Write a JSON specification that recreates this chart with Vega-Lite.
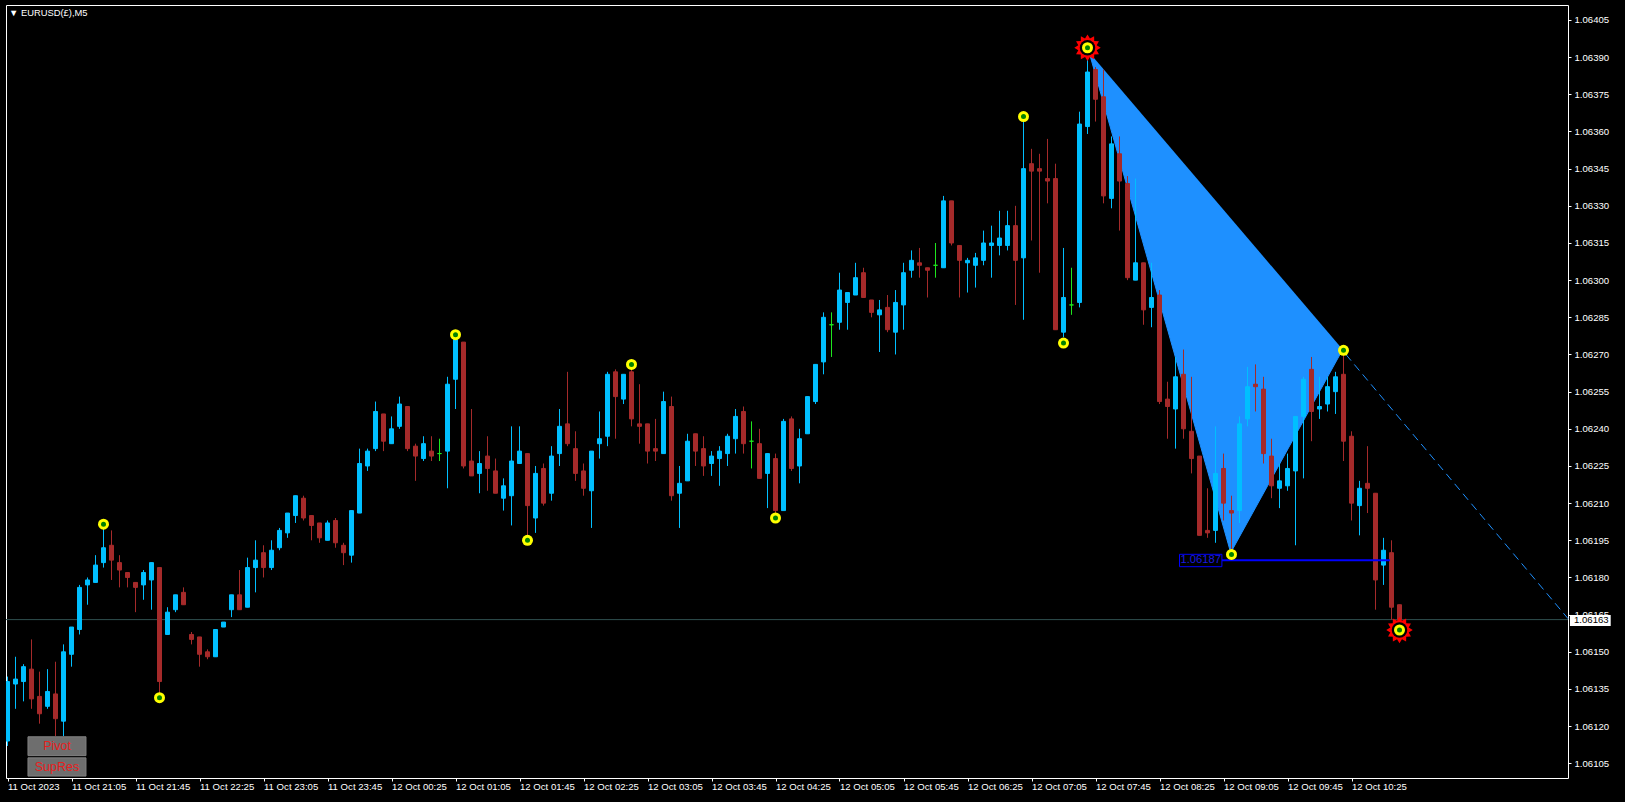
{
"$schema": "https://vega.github.io/schema/vega-lite/v6.json",
"width": 1562, "height": 773,
"autosize": {"type": "none"},
"padding": {"left": 6, "top": 5, "right": 57, "bottom": 24},
"background": "#000000",
"title": {"text": "▼ EURUSD(£),M5", "anchor": "start", "frame": "group", "orient": "top", "offset": -20, "dx": 3, "font": "Liberation Sans", "fontSize": 9.4, "fontWeight": "normal", "color": "#ffffff", "baseline": "alphabetic"},
"config": {"view": {"stroke": "#ffffff", "strokeWidth": 1}, "font": "Liberation Sans"},
"resolve": {"scale": {"x": "shared", "y": "shared"}, "axis": {"x": "shared", "y": "shared"}},
"datasets": {
"bars": [
{"i":0,"o":1.06114,"h":1.0614,"l":1.06112,"c":1.06138},
{"i":1,"o":1.06137,"h":1.06148,"l":1.06127,"c":1.06139},
{"i":2,"o":1.06138,"h":1.06145,"l":1.0613,"c":1.06144},
{"i":3,"o":1.06143,"h":1.06155,"l":1.06127,"c":1.06131},
{"i":4,"o":1.06132,"h":1.06142,"l":1.06121,"c":1.06125},
{"i":5,"o":1.06128,"h":1.06143,"l":1.06127,"c":1.06134},
{"i":6,"o":1.06133,"h":1.06146,"l":1.06116,"c":1.06123},
{"i":7,"o":1.06122,"h":1.06153,"l":1.06116,"c":1.0615},
{"i":8,"o":1.06149,"h":1.0616,"l":1.06144,"c":1.0616},
{"i":9,"o":1.06159,"h":1.06177,"l":1.06157,"c":1.06176},
{"i":10,"o":1.06177,"h":1.0618,"l":1.06169,"c":1.06179},
{"i":11,"o":1.06178,"h":1.06189,"l":1.06178,"c":1.06185},
{"i":12,"o":1.06186,"h":1.062,"l":1.06184,"c":1.06192},
{"i":13,"o":1.06193,"h":1.06199,"l":1.06179,"c":1.06187},
{"i":14,"o":1.06186,"h":1.06189,"l":1.06176,"c":1.06183},
{"i":15,"o":1.06182,"h":1.06182,"l":1.06176,"c":1.0618},
{"i":16,"o":1.06178,"h":1.06178,"l":1.06166,"c":1.06176},
{"i":17,"o":1.06177,"h":1.06183,"l":1.06171,"c":1.06182},
{"i":18,"o":1.06179,"h":1.06186,"l":1.06167,"c":1.06186},
{"i":19,"o":1.06184,"h":1.06184,"l":1.06133,"c":1.06138},
{"i":20,"o":1.06157,"h":1.06168,"l":1.06157,"c":1.06166},
{"i":21,"o":1.06167,"h":1.06173,"l":1.06166,"c":1.06173},
{"i":22,"o":1.06174,"h":1.06176,"l":1.06169,"c":1.06169},
{"i":23,"o":1.06157,"h":1.06158,"l":1.06153,"c":1.06155},
{"i":24,"o":1.06156,"h":1.06156,"l":1.06144,"c":1.06149},
{"i":25,"o":1.0615,"h":1.06151,"l":1.06147,"c":1.06148},
{"i":26,"o":1.06148,"h":1.06159,"l":1.06148,"c":1.06159},
{"i":27,"o":1.0616,"h":1.06162,"l":1.0616,"c":1.06162},
{"i":28,"o":1.06167,"h":1.06173,"l":1.06164,"c":1.06173},
{"i":29,"o":1.06173,"h":1.06183,"l":1.06167,"c":1.06167},
{"i":30,"o":1.06168,"h":1.06188,"l":1.06168,"c":1.06184},
{"i":31,"o":1.06184,"h":1.06195,"l":1.06174,"c":1.06187},
{"i":32,"o":1.0619,"h":1.06193,"l":1.0618,"c":1.06184},
{"i":33,"o":1.06184,"h":1.06195,"l":1.06183,"c":1.06191},
{"i":34,"o":1.06192,"h":1.062,"l":1.06191,"c":1.06199},
{"i":35,"o":1.06198,"h":1.06206,"l":1.06196,"c":1.06206},
{"i":36,"o":1.06205,"h":1.06213,"l":1.06202,"c":1.06213},
{"i":37,"o":1.06212,"h":1.06213,"l":1.06203,"c":1.06204},
{"i":38,"o":1.06205,"h":1.06205,"l":1.06195,"c":1.06201},
{"i":39,"o":1.06202,"h":1.06202,"l":1.06194,"c":1.06196},
{"i":40,"o":1.06195,"h":1.06203,"l":1.06195,"c":1.06202},
{"i":41,"o":1.06203,"h":1.06204,"l":1.06192,"c":1.06194},
{"i":42,"o":1.06193,"h":1.06194,"l":1.06185,"c":1.0619},
{"i":43,"o":1.06189,"h":1.06207,"l":1.06186,"c":1.06207},
{"i":44,"o":1.06206,"h":1.06232,"l":1.06206,"c":1.06226},
{"i":45,"o":1.06225,"h":1.06232,"l":1.06223,"c":1.06231},
{"i":46,"o":1.06232,"h":1.06251,"l":1.06231,"c":1.06247},
{"i":47,"o":1.06246,"h":1.06246,"l":1.06231,"c":1.06235},
{"i":48,"o":1.06234,"h":1.06245,"l":1.06234,"c":1.0624},
{"i":49,"o":1.06241,"h":1.06253,"l":1.0624,"c":1.0625},
{"i":50,"o":1.06249,"h":1.06249,"l":1.06231,"c":1.06232},
{"i":51,"o":1.06233,"h":1.06234,"l":1.06219,"c":1.06229},
{"i":52,"o":1.06228,"h":1.06237,"l":1.06227,"c":1.06234},
{"i":53,"o":1.06231,"h":1.06237,"l":1.06227,"c":1.06229},
{"i":54,"o":1.0623,"h":1.06236,"l":1.06227,"c":1.0623},
{"i":55,"o":1.06231,"h":1.06261,"l":1.06216,"c":1.06258},
{"i":56,"o":1.0626,"h":1.06276,"l":1.06248,"c":1.06276},
{"i":57,"o":1.06275,"h":1.06275,"l":1.06224,"c":1.06225},
{"i":58,"o":1.06227,"h":1.06248,"l":1.06221,"c":1.06221},
{"i":59,"o":1.06222,"h":1.06231,"l":1.06214,"c":1.06226},
{"i":60,"o":1.06229,"h":1.06237,"l":1.06215,"c":1.06224},
{"i":61,"o":1.06223,"h":1.06228,"l":1.06214,"c":1.06214},
{"i":62,"o":1.06212,"h":1.0622,"l":1.06207,"c":1.06217},
{"i":63,"o":1.06213,"h":1.06241,"l":1.06201,"c":1.06227},
{"i":64,"o":1.06226,"h":1.06241,"l":1.06226,"c":1.06231},
{"i":65,"o":1.0623,"h":1.0623,"l":1.06197,"c":1.06209},
{"i":66,"o":1.06204,"h":1.06225,"l":1.06198,"c":1.06222},
{"i":67,"o":1.06224,"h":1.06226,"l":1.06209,"c":1.0621},
{"i":68,"o":1.06214,"h":1.06233,"l":1.06211,"c":1.06229},
{"i":69,"o":1.0623,"h":1.06248,"l":1.06225,"c":1.06241},
{"i":70,"o":1.06242,"h":1.06263,"l":1.06233,"c":1.06234},
{"i":71,"o":1.06232,"h":1.06239,"l":1.06219,"c":1.06222},
{"i":72,"o":1.06223,"h":1.06226,"l":1.06213,"c":1.06216},
{"i":73,"o":1.06215,"h":1.06231,"l":1.062,"c":1.06231},
{"i":74,"o":1.06234,"h":1.06247,"l":1.06228,"c":1.06236},
{"i":75,"o":1.06237,"h":1.06263,"l":1.06233,"c":1.06262},
{"i":76,"o":1.06263,"h":1.06264,"l":1.06236,"c":1.06253},
{"i":77,"o":1.06252,"h":1.06262,"l":1.0625,"c":1.06262},
{"i":78,"o":1.06263,"h":1.06265,"l":1.06241,"c":1.06244},
{"i":79,"o":1.06242,"h":1.06258,"l":1.06234,"c":1.06241},
{"i":80,"o":1.06242,"h":1.06242,"l":1.06226,"c":1.06231},
{"i":81,"o":1.06232,"h":1.06244,"l":1.06227,"c":1.06231},
{"i":82,"o":1.0623,"h":1.06255,"l":1.0623,"c":1.06251},
{"i":83,"o":1.06249,"h":1.06253,"l":1.06211,"c":1.06213},
{"i":84,"o":1.06214,"h":1.06225,"l":1.062,"c":1.06218},
{"i":85,"o":1.06219,"h":1.06238,"l":1.06219,"c":1.06235},
{"i":86,"o":1.06238,"h":1.06238,"l":1.06225,"c":1.06231},
{"i":87,"o":1.06232,"h":1.06237,"l":1.06221,"c":1.06225},
{"i":88,"o":1.06226,"h":1.06231,"l":1.06221,"c":1.06229},
{"i":89,"o":1.06228,"h":1.06233,"l":1.06217,"c":1.06231},
{"i":90,"o":1.0623,"h":1.06238,"l":1.06225,"c":1.06237},
{"i":91,"o":1.06236,"h":1.06248,"l":1.0623,"c":1.06245},
{"i":92,"o":1.06247,"h":1.06249,"l":1.0623,"c":1.06234},
{"i":93,"o":1.06235,"h":1.06243,"l":1.06224,"c":1.06235},
{"i":94,"o":1.06234,"h":1.0624,"l":1.0622,"c":1.0622},
{"i":95,"o":1.06222,"h":1.0623,"l":1.06208,"c":1.0623},
{"i":96,"o":1.06228,"h":1.0623,"l":1.06206,"c":1.06207},
{"i":97,"o":1.06207,"h":1.06244,"l":1.06207,"c":1.06243},
{"i":98,"o":1.06244,"h":1.06245,"l":1.06223,"c":1.06224},
{"i":99,"o":1.06225,"h":1.0624,"l":1.06218,"c":1.06236},
{"i":100,"o":1.06238,"h":1.06253,"l":1.06238,"c":1.06253},
{"i":101,"o":1.06251,"h":1.06266,"l":1.0625,"c":1.06266},
{"i":102,"o":1.06267,"h":1.06287,"l":1.06262,"c":1.06285},
{"i":103,"o":1.06282,"h":1.06287,"l":1.06269,"c":1.06282},
{"i":104,"o":1.06283,"h":1.06303,"l":1.0628,"c":1.06296},
{"i":105,"o":1.06291,"h":1.06295,"l":1.0628,"c":1.06295},
{"i":106,"o":1.06294,"h":1.06307,"l":1.06294,"c":1.06301},
{"i":107,"o":1.06303,"h":1.06305,"l":1.06293,"c":1.06293},
{"i":108,"o":1.06292,"h":1.06292,"l":1.06285,"c":1.06287},
{"i":109,"o":1.06286,"h":1.06292,"l":1.06271,"c":1.06288},
{"i":110,"o":1.06289,"h":1.06294,"l":1.06279,"c":1.0628},
{"i":111,"o":1.06279,"h":1.06296,"l":1.0627,"c":1.06291},
{"i":112,"o":1.0629,"h":1.06307,"l":1.0628,"c":1.06303},
{"i":113,"o":1.06304,"h":1.06312,"l":1.06301,"c":1.06308},
{"i":114,"o":1.06307,"h":1.06313,"l":1.06301,"c":1.06306},
{"i":115,"o":1.06305,"h":1.06305,"l":1.06293,"c":1.06304},
{"i":116,"o":1.06306,"h":1.06315,"l":1.06301,"c":1.06306},
{"i":117,"o":1.06305,"h":1.06334,"l":1.06305,"c":1.06332},
{"i":118,"o":1.06332,"h":1.06332,"l":1.06314,"c":1.06315},
{"i":119,"o":1.06314,"h":1.06314,"l":1.06293,"c":1.06308},
{"i":120,"o":1.06307,"h":1.06309,"l":1.06295,"c":1.06308},
{"i":121,"o":1.06306,"h":1.06311,"l":1.06297,"c":1.06309},
{"i":122,"o":1.06308,"h":1.0632,"l":1.06306,"c":1.06315},
{"i":123,"o":1.06314,"h":1.06322,"l":1.06301,"c":1.06315},
{"i":124,"o":1.06314,"h":1.06328,"l":1.0631,"c":1.06317},
{"i":125,"o":1.06314,"h":1.06328,"l":1.06312,"c":1.06322},
{"i":126,"o":1.06322,"h":1.0633,"l":1.0629,"c":1.06308},
{"i":127,"o":1.06309,"h":1.06364,"l":1.06284,"c":1.06345},
{"i":128,"o":1.06347,"h":1.06353,"l":1.06316,"c":1.06344},
{"i":129,"o":1.06345,"h":1.06351,"l":1.06303,"c":1.06344},
{"i":130,"o":1.06341,"h":1.06357,"l":1.06331,"c":1.0634},
{"i":131,"o":1.06341,"h":1.06347,"l":1.0628,"c":1.0628},
{"i":132,"o":1.06279,"h":1.06313,"l":1.06277,"c":1.06293},
{"i":133,"o":1.0629,"h":1.06305,"l":1.06286,"c":1.0629},
{"i":134,"o":1.06291,"h":1.06368,"l":1.06289,"c":1.06363},
{"i":135,"o":1.06362,"h":1.06392,"l":1.06359,"c":1.06384},
{"i":136,"o":1.06385,"h":1.06386,"l":1.06364,"c":1.06373},
{"i":137,"o":1.06374,"h":1.06385,"l":1.06331,"c":1.06334},
{"i":138,"o":1.06333,"h":1.06358,"l":1.06329,"c":1.06355},
{"i":139,"o":1.06351,"h":1.06358,"l":1.0632,"c":1.0634},
{"i":140,"o":1.06339,"h":1.06342,"l":1.063,"c":1.06301},
{"i":141,"o":1.063,"h":1.06341,"l":1.063,"c":1.06307},
{"i":142,"o":1.06307,"h":1.06307,"l":1.06282,"c":1.06288},
{"i":143,"o":1.06289,"h":1.06307,"l":1.06281,"c":1.06293},
{"i":144,"o":1.06294,"h":1.06296,"l":1.0625,"c":1.06251},
{"i":145,"o":1.06252,"h":1.06259,"l":1.06236,"c":1.06249},
{"i":146,"o":1.06248,"h":1.06269,"l":1.06232,"c":1.06261},
{"i":147,"o":1.06262,"h":1.06272,"l":1.06236,"c":1.0624},
{"i":148,"o":1.06239,"h":1.06261,"l":1.06222,"c":1.06228},
{"i":149,"o":1.06229,"h":1.06229,"l":1.06197,"c":1.06197},
{"i":150,"o":1.06199,"h":1.06216,"l":1.06196,"c":1.06198},
{"i":151,"o":1.06199,"h":1.06241,"l":1.06194,"c":1.06222},
{"i":152,"o":1.06224,"h":1.0623,"l":1.06203,"c":1.0621},
{"i":153,"o":1.06207,"h":1.06213,"l":1.0619,"c":1.06206},
{"i":154,"o":1.06207,"h":1.06245,"l":1.06202,"c":1.06242},
{"i":155,"o":1.06244,"h":1.06265,"l":1.06241,"c":1.06257},
{"i":156,"o":1.06258,"h":1.06266,"l":1.06247,"c":1.06257},
{"i":157,"o":1.06256,"h":1.06261,"l":1.06226,"c":1.0623},
{"i":158,"o":1.06229,"h":1.06236,"l":1.06212,"c":1.06217},
{"i":159,"o":1.06216,"h":1.06226,"l":1.06208,"c":1.06219},
{"i":160,"o":1.06217,"h":1.0623,"l":1.06215,"c":1.06224},
{"i":161,"o":1.06223,"h":1.06245,"l":1.06193,"c":1.06245},
{"i":162,"o":1.06245,"h":1.06261,"l":1.0622,"c":1.0626},
{"i":163,"o":1.06264,"h":1.06269,"l":1.06235,"c":1.06247},
{"i":164,"o":1.06248,"h":1.06261,"l":1.06244,"c":1.06249},
{"i":165,"o":1.0625,"h":1.06261,"l":1.06247,"c":1.06257},
{"i":166,"o":1.06255,"h":1.06263,"l":1.06246,"c":1.06261},
{"i":167,"o":1.06262,"h":1.0627,"l":1.06227,"c":1.06235},
{"i":168,"o":1.06237,"h":1.06239,"l":1.06203,"c":1.0621},
{"i":169,"o":1.06209,"h":1.06219,"l":1.06197,"c":1.06216},
{"i":170,"o":1.06218,"h":1.06233,"l":1.06206,"c":1.06216},
{"i":171,"o":1.06214,"h":1.06214,"l":1.06167,"c":1.06179},
{"i":172,"o":1.06185,"h":1.06196,"l":1.06177,"c":1.06191},
{"i":173,"o":1.0619,"h":1.06195,"l":1.06163,"c":1.06168},
{"i":174,"o":1.06169,"h":1.06169,"l":1.0616,"c":1.06163}
],
"tri": [{"k":0,"i":135.2,"p":1.06392},{"k":1,"i":152.9,"p":1.0619},{"k":2,"i":166.9,"p":1.06272}],
"bid": [{"i":-0.1875,"i2":195.0625,"p":1.06163}],
"proj": [{"k":0,"i":167.3,"p":1.0627},{"k":1,"i":195.0625,"p":1.061634}],
"level": [{"i":151.8,"i2":172.8,"p":1.06187}],
"levelbox": [{"i":146.5,"i2":151.8,"p":1.0618935,"p2":1.0618435}],
"levellabel": [{"i":149.15,"p":1.06187,"label":"1.06187"}],
"pivots": [
{"i":12,"p":1.062015,"star":false},
{"i":19,"p":1.061315,"star":false},
{"i":56,"p":1.06278,"star":false},
{"i":65,"p":1.06195,"star":false},
{"i":78,"p":1.06266,"star":false},
{"i":96,"p":1.06204,"star":false},
{"i":127,"p":1.06366,"star":false},
{"i":132,"p":1.062746,"star":false},
{"i":135,"p":1.063938,"star":true},
{"i":153,"p":1.061893,"star":false},
{"i":167,"p":1.062717,"star":false},
{"i":174,"p":1.061588,"star":true}
],
"buttons": [{"i":2.56,"i2":9.81,"p":1.061157,"p2":1.061081},{"i":2.56,"i2":9.81,"p":1.061072,"p2":1.0609985}],
"buttontext": [{"i":6.19,"p":1.061119,"label":"Pivot"},{"i":6.19,"p":1.061035,"label":"SupRes"}],
"pricebox": [{"i":195.31,"i2":200.4,"p":1.061649,"p2":1.061604}],
"pricelabel": [{"i":195.81,"p":1.0616265,"label":"1.06163"}]
},
"encoding": {
"x": {"field": "i", "type": "quantitative",
 "scale": {"domain": [-0.1875, 195.0625], "nice": false, "zero": false, "padding": 0},
 "axis": {"values": [0,8,16,24,32,40,48,56,64,72,80,88,96,104,112,120,128,136,144,152,160,168],
  "labelExpr": "datum.value == 0 ? '11 Oct 2023' : ((1225 + 5 * datum.value) >= 1440 ? '12 Oct ' : '11 Oct ') + pad(toString(floor(((1225 + 5 * datum.value) % 1440) / 60)), 2, '0', 'left') + ':' + pad(toString((1225 + 5 * datum.value) % 60), 2, '0', 'left')",
  "labelAlign": "left", "labelBaseline": "top", "labelColor": "#ffffff", "labelFont": "Liberation Sans", "labelFontSize": 9.6,
  "labelPadding": 0, "tickColor": "#ffffff", "tickSize": 3, "domain": false, "grid": false, "title": null,
  "labelOverlap": false, "labelFlush": false, "labelBound": false}},
"y": {"field": "p", "type": "quantitative",
 "scale": {"domain": [1.0609907, 1.0641105], "nice": false, "zero": false, "padding": 0},
 "axis": {"orient": "right", "values": [1.06105,1.0612,1.06135,1.0615,1.06165,1.0618,1.06195,1.0621,1.06225,1.0624,1.06255,1.0627,1.06285,1.063,1.06315,1.0633,1.06345,1.0636,1.06375,1.0639,1.06405],
  "format": ".5f", "labelColor": "#ffffff", "labelFont": "Liberation Sans", "labelFontSize": 9.6, "labelPadding": 3, "labelAlign": "left", "labelBaseline": "middle",
  "tickColor": "#ffffff", "tickSize": 3, "domain": false, "grid": false, "title": null, "labelOverlap": false, "labelBound": false, "labelFlush": false}}
},
"layer": [
{"data": {"name": "tri"}, "mark": {"type": "line", "fill": "#1e90ff", "stroke": "#1e90ff", "strokeWidth": 1, "clip": true},
 "encoding": {"order": {"field": "k", "type": "quantitative"}}},
{"data": {"name": "bid"}, "mark": {"type": "rule", "stroke": "#2f4f4f", "strokeWidth": 1},
 "encoding": {"x2": {"field": "i2"}}},
{"data": {"name": "bars"}, "mark": {"type": "rule", "strokeWidth": 1, "clip": true},
 "encoding": {
  "y": {"field": "l", "type": "quantitative", "scale": {"domain": [1.0609907, 1.0641105], "nice": false, "zero": false, "padding": 0},
   "axis": {"orient": "right", "values": [1.06105,1.0612,1.06135,1.0615,1.06165,1.0618,1.06195,1.0621,1.06225,1.0624,1.06255,1.0627,1.06285,1.063,1.06315,1.0633,1.06345,1.0636,1.06375,1.0639,1.06405],
    "format": ".5f", "labelColor": "#ffffff", "labelFont": "Liberation Sans", "labelFontSize": 9.6, "labelPadding": 3, "labelAlign": "left", "labelBaseline": "middle",
    "tickColor": "#ffffff", "tickSize": 3, "domain": false, "grid": false, "title": null, "labelOverlap": false, "labelBound": false, "labelFlush": false}},
  "y2": {"field": "h"},
  "color": {"condition": [{"test": "datum.c > datum.o", "value": "#00bfff"}, {"test": "datum.c < datum.o", "value": "#a52a2a"}], "value": "#1ee61e"}}},
{"data": {"name": "bars"}, "mark": {"type": "bar", "size": 4, "strokeWidth": 1, "clip": true},
 "encoding": {
  "y": {"field": "o", "type": "quantitative", "scale": {"domain": [1.0609907, 1.0641105], "nice": false, "zero": false, "padding": 0},
   "axis": {"orient": "right", "values": [1.06105,1.0612,1.06135,1.0615,1.06165,1.0618,1.06195,1.0621,1.06225,1.0624,1.06255,1.0627,1.06285,1.063,1.06315,1.0633,1.06345,1.0636,1.06375,1.0639,1.06405],
    "format": ".5f", "labelColor": "#ffffff", "labelFont": "Liberation Sans", "labelFontSize": 9.6, "labelPadding": 3, "labelAlign": "left", "labelBaseline": "middle",
    "tickColor": "#ffffff", "tickSize": 3, "domain": false, "grid": false, "title": null, "labelOverlap": false, "labelBound": false, "labelFlush": false}},
  "y2": {"field": "c"},
  "fill": {"condition": [{"test": "datum.c > datum.o", "value": "#00bfff"}, {"test": "datum.c < datum.o", "value": "#a52a2a"}], "value": "#1ee61e"},
  "stroke": {"condition": [{"test": "datum.c > datum.o", "value": "#00bfff"}, {"test": "datum.c < datum.o", "value": "#a52a2a"}], "value": "#1ee61e"}}},
{"data": {"name": "proj"}, "mark": {"type": "line", "stroke": "#1e90ff", "strokeWidth": 1, "strokeDash": [8, 5]},
 "encoding": {"order": {"field": "k", "type": "quantitative"}}},
{"data": {"name": "level"}, "mark": {"type": "rule", "stroke": "#0000ff", "strokeWidth": 2},
 "encoding": {"x2": {"field": "i2"}}},
{"data": {"name": "levelbox"}, "mark": {"type": "rect", "fill": "#000000", "stroke": "#0000ff", "strokeWidth": 1},
 "encoding": {"x2": {"field": "i2"}, "y2": {"field": "p2"}}},
{"data": {"name": "levellabel"}, "mark": {"type": "text", "color": "#1a1ae0", "fontSize": 11.2, "font": "Liberation Sans", "align": "center", "baseline": "middle"},
 "encoding": {"text": {"field": "label"}}},
{"data": {"name": "pivots"}, "transform": [{"filter": "datum.star"}],
 "mark": {"type": "point", "shape": "M0,-1L0.186,-0.695L0.5,-0.866L0.509,-0.509L0.866,-0.5L0.695,-0.186L1,0L0.695,0.186L0.866,0.5L0.509,0.509L0.5,0.866L0.186,0.695L0,1L-0.186,0.695L-0.5,0.866L-0.509,0.509L-0.866,0.5L-0.695,0.186L-1,0L-0.695,-0.186L-0.866,-0.5L-0.509,-0.509L-0.5,-0.866L-0.186,-0.695Z", "size": 700, "filled": true, "color": "#ff0000", "opacity": 1}},
{"data": {"name": "pivots"}, "transform": [{"filter": "datum.star"}],
 "mark": {"type": "circle", "size": 240, "color": "#000000", "opacity": 1}},
{"data": {"name": "pivots"}, "mark": {"type": "circle", "size": 121, "color": "#ffff00", "opacity": 1}},
{"data": {"name": "pivots"}, "mark": {"type": "circle", "size": 25, "color": "#008000", "opacity": 1}},
{"data": {"name": "buttons"}, "mark": {"type": "rect", "fill": "#6e6e6e", "stroke": "#808080", "strokeWidth": 1},
 "encoding": {"x2": {"field": "i2"}, "y2": {"field": "p2"}}},
{"data": {"name": "buttontext"}, "mark": {"type": "text", "color": "#e81e1e", "fontSize": 12.5, "font": "Liberation Sans", "align": "center", "baseline": "middle"},
 "encoding": {"text": {"field": "label"}}},
{"data": {"name": "pricebox"}, "mark": {"type": "rect", "fill": "#ffffff", "clip": false},
 "encoding": {"x2": {"field": "i2"}, "y2": {"field": "p2"}}},
{"data": {"name": "pricelabel"}, "mark": {"type": "text", "color": "#000000", "fontSize": 9.6, "font": "Liberation Sans", "align": "left", "baseline": "middle", "clip": false},
 "encoding": {"text": {"field": "label"}}}
]
}
